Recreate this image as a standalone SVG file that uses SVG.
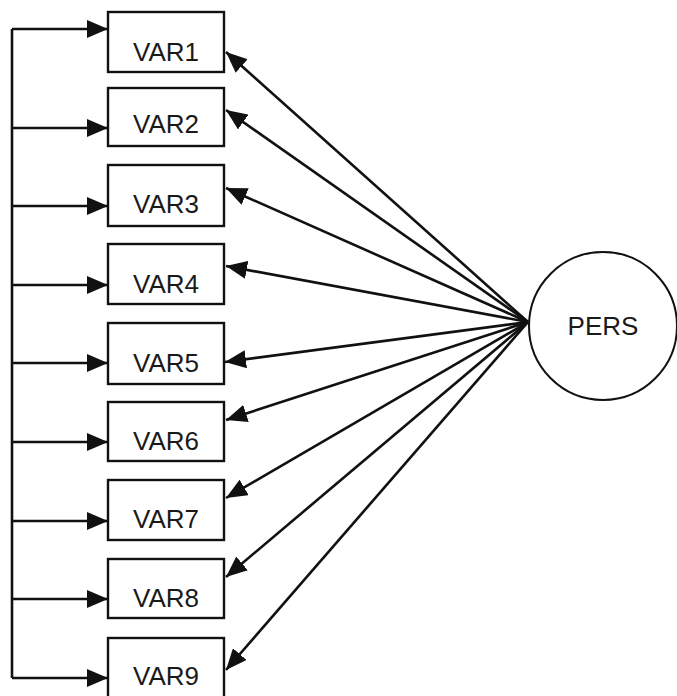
<svg xmlns="http://www.w3.org/2000/svg" width="677" height="696" viewBox="0 0 677 696">
<style>
.box{fill:#fff;stroke:#111;stroke-width:2.4}
.lbl{font-family:"Liberation Sans",Arial,sans-serif;font-size:26px;fill:#1a1a1a;text-anchor:middle}
.cn{fill:none;stroke:#111;stroke-width:2.6}
.ar{marker-end:url(#ah)}
</style>
<defs>
<marker id="ah" markerUnits="userSpaceOnUse" markerWidth="22" markerHeight="18" viewBox="0 0 22 18" refX="21" refY="9" orient="auto">
<path d="M0,0 L21,9 L0,18 Z" fill="#111"/>
</marker>
</defs>
<rect width="677" height="696" fill="#fff"/>
<g id="connectors">
<path class="cn" d="M12,29 V678"/>
<path class="cn ar" d="M12,29 H108"/>
<path class="cn ar" d="M12,128 H108"/>
<path class="cn ar" d="M12,206 H108"/>
<path class="cn ar" d="M12,285 H108"/>
<path class="cn ar" d="M12,363 H108"/>
<path class="cn ar" d="M12,442 H108"/>
<path class="cn ar" d="M12,521 H108"/>
<path class="cn ar" d="M12,599 H108"/>
<path class="cn ar" d="M12,678 H108"/>
<path class="cn ar" d="M528,322 L226,52"/>
<path class="cn ar" d="M528,322 L226,110"/>
<path class="cn ar" d="M528,322 L226,188"/>
<path class="cn ar" d="M528,322 L226,266"/>
<path class="cn ar" d="M528,322 L225,362"/>
<path class="cn ar" d="M528,322 L226,420"/>
<path class="cn ar" d="M528,322 L226,498"/>
<path class="cn ar" d="M528,322 L226,577"/>
<path class="cn ar" d="M528,322 L226,670"/>
</g>
<g id="VAR1"><rect class="box" x="108" y="12" width="116" height="60"/><text class="lbl" x="166" y="61">VAR1</text></g>
<g id="VAR2"><rect class="box" x="108" y="88" width="116" height="58"/><text class="lbl" x="166" y="133">VAR2</text></g>
<g id="VAR3"><rect class="box" x="108" y="165" width="116" height="61"/><text class="lbl" x="166" y="213">VAR3</text></g>
<g id="VAR4"><rect class="box" x="108" y="244" width="116" height="60"/><text class="lbl" x="166" y="293">VAR4</text></g>
<g id="VAR5"><rect class="box" x="108" y="323" width="116" height="61"/><text class="lbl" x="166" y="372">VAR5</text></g>
<g id="VAR6"><rect class="box" x="108" y="402" width="116" height="59"/><text class="lbl" x="166" y="450">VAR6</text></g>
<g id="VAR7"><rect class="box" x="108" y="480" width="116" height="60"/><text class="lbl" x="166" y="528">VAR7</text></g>
<g id="VAR8"><rect class="box" x="108" y="559" width="116" height="59"/><text class="lbl" x="166" y="607">VAR8</text></g>
<g id="VAR9"><rect class="box" x="108" y="638" width="116" height="60"/><text class="lbl" x="166" y="685">VAR9</text></g>
<g id="PERS"><circle cx="603" cy="326" r="74" fill="#fff" stroke="#111" stroke-width="2"/><text class="lbl" x="603" y="335">PERS</text></g>
</svg>
